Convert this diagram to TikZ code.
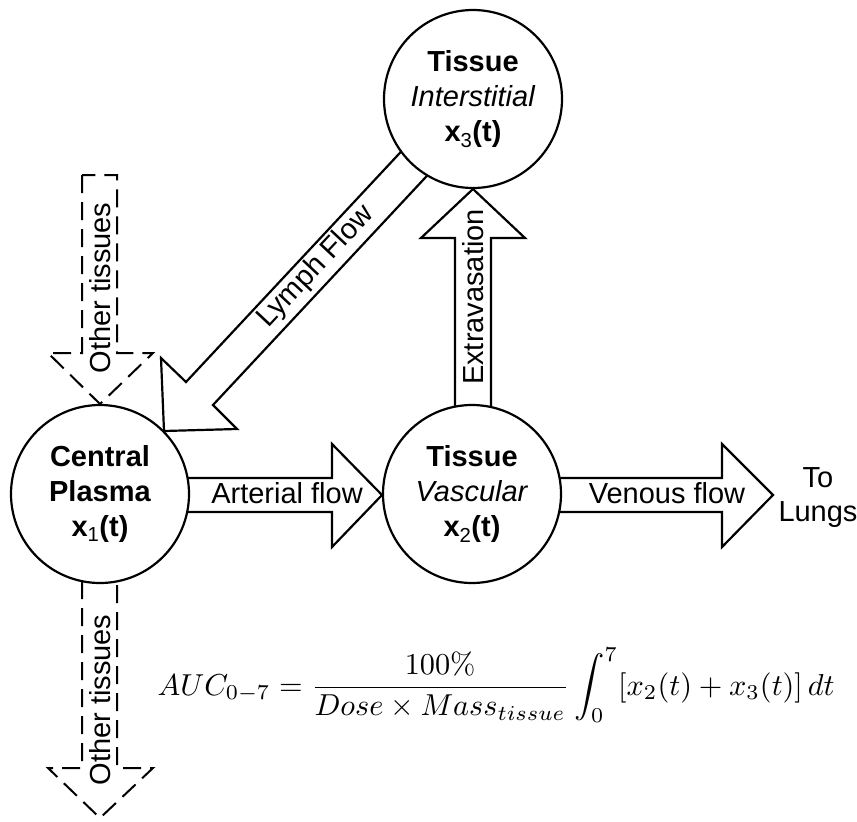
\documentclass[tikz,border=0pt]{standalone}
\usepackage{fontspec}
\setsansfont{Liberation Sans}
\usepackage{amsmath}
\tikzset{
  comp/.style={circle, draw, line width=2.2pt, fill=white, minimum size=178pt, inner sep=0pt, align=center, font=\sffamily\fontsize{29}{35}\selectfont},
  blk/.style={draw, line width=2.2pt, fill=white, line join=miter},
  dsh/.style={draw, line width=2pt, dash pattern=on 18pt off 9pt, line join=miter},
  lbl/.style={font=\sffamily\fontsize{29}{34}\selectfont, inner sep=0pt, align=center}
}
\begin{document}
\begin{tikzpicture}[x=1pt,y=-1pt]
\useasboundingbox (0,0) rectangle (857,822);
% block arrows (under the circles)
\draw[blk] (150,478) -- (332,478) -- (332,444) -- (382,495) -- (332,547) -- (332,512) -- (150,512) -- cycle;
\draw[blk] (530,478) -- (722,478) -- (722,444) -- (773,495) -- (722,547) -- (722,512) -- (530,512) -- cycle;
\draw[blk] (455,450) -- (455,238) -- (421,238) -- (473,189) -- (525,238) -- (491,238) -- (491,450) -- cycle;
\draw[blk] (411,141) -- (186,382) -- (161,358) -- (164,431) -- (237,429) -- (213,405) -- (438,164) -- cycle;
% dashed arrows
\draw[dsh] (82,175) -- (82,353) -- (48,353) -- (100,404) -- (153,353) -- (117,353) -- (117,175) -- cycle;
\draw[dsh] (82,581) -- (82,768) -- (48,768) -- (100,818) -- (153,768) -- (117,768) -- (117,581);
% compartments
\node[comp] (c1) at (100,494) {\textbf{Central}\\\textbf{Plasma}\\\textbf{x}\textsubscript{1}\textbf{(t)}};
\node[comp] (c2) at (472,494) {\textbf{Tissue}\\\textit{Vascular}\\\textbf{x}\textsubscript{2}\textbf{(t)}};
\node[comp] (c3) at (473,99) {\textbf{Tissue}\\\textit{Interstitial}\\\textbf{x}\textsubscript{3}\textbf{(t)}};
% labels
\node[lbl] (la) at (287,493) {Arterial flow};
\node[lbl] (lv) at (667,493) {Venous flow};
\node[lbl] (ll) at (818,498) {To\\Lungs};
\node[lbl, rotate=90] (le) at (473,297) {Extravasation};
\node[lbl, rotate=46.9] (lf) at (316,267) {Lymph Flow};
\node[lbl, rotate=90] (lo1) at (100,288) {Other tissues};
\node[lbl, rotate=90] (lo2) at (100,700) {Other tissues};
% formula
\node[anchor=base west, scale=3.03, transform shape, inner sep=0pt] (auc) at (157,695)
  {$\displaystyle AUC_{0-7} = \frac{100\%}{Dose\times Mass_{tissue}}\int_0^7 [x_2(t)+x_3(t)]\,dt$};
\end{tikzpicture}
\end{document}
